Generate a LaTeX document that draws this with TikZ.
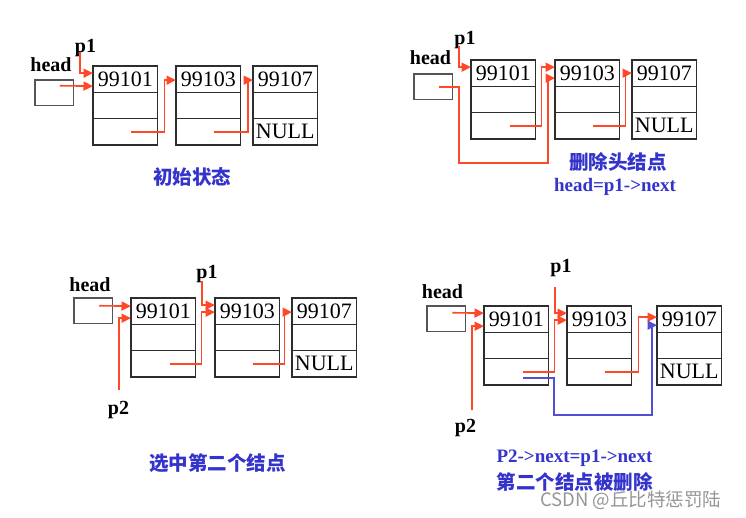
\documentclass[tikz,border=0pt]{standalone}
\usepackage{fontspec}
\setmainfont{Liberation Serif}
\newfontfamily\cjk{Noto Sans CJK SC}
\usetikzlibrary{arrows.meta,calc}
\definecolor{redc}{RGB}{255,72,40}
\definecolor{bluec}{RGB}{52,52,204}
\definecolor{bluel}{RGB}{80,80,215}
\definecolor{boxc}{RGB}{45,45,45}
\definecolor{hboxc}{RGB}{85,85,85}
\definecolor{wmc}{RGB}{150,150,150}
\tikzset{
  field/.style={draw=boxc, line width=1.2, minimum width=64.5, minimum height=26.3,
    inner sep=0, outer sep=0, font=\fontsize{22}{24}\selectfont},
  hbox/.style={draw=hboxc, line width=1.3, minimum width=38.5, minimum height=25.5, inner sep=0, outer sep=0, anchor=north west},
  lbl/.style={inner sep=0, font=\fontsize{20}{22}\selectfont\bfseries},
  ptr/.style={draw=redc, line width=1.6, -{Triangle[length=9.5pt,width=9pt]}},
  bptr/.style={draw=bluel, line width=1.6, -{Triangle[length=9.5pt,width=9pt]}},
  captxt/.style={inner sep=0, text=bluec, font=\fontsize{19.5}{22}\selectfont\cjk\bfseries},
  capltxt/.style={inner sep=0, text=bluec, font=\fontsize{19}{22}\selectfont\bfseries},
  wmtxt/.style={inner sep=0, text=wmc, font=\fontsize{18.5}{22}\selectfont\cjk, anchor=west}
}
\newcommand\listnode[5]{%
  \node[field,anchor=north west] (#1d) at (#2,#3) {#4};
  \node[field,anchor=north] (#1m) at (#1d.south) {};
  \node[field,anchor=north] (#1n) at (#1m.south) {#5};}
\begin{document}
\begin{tikzpicture}[x=1pt,y=-1pt]
\fill[white] (0,0) rectangle (746,517);
\useasboundingbox (0,0) rectangle (746,517);

% ---------- Panel 1 ----------
\node[hbox] (Ha) at (35,80) {};
\listnode{A1}{93}{66}{99101}{}
\listnode{A2}{176}{66}{99103}{}
\listnode{A3}{253}{66}{99107}{NULL}
\node[lbl] (Lha) at (51,64.5) {head};
\node[lbl] (Lpa) at (85.5,48.5) {p1};
\coordinate (Pa) at (80,52);
\draw[ptr] ($(Ha.center)+(5.5,-7)$) -- ($(A1d.west)+(0,7)$);
\draw[ptr] (Pa) |- ($(A1d.west)+(0,-6)$);
\draw[ptr] ($(A1n.center)+(6,0)$) -| ($(A1d.east)+(7,1)$) -- ($(A2d.west)+(0,1)$);
\draw[ptr] ($(A2n.center)+(6,0)$) -| ($(A2d.east)+(7.5,1)$) -- ($(A3d.west)+(0,1)$);
\node[captxt] (Ca) at (192,176.5) {初始状态};

% ---------- Panel 2 ----------
\node[hbox] (Hb) at (414,74) {};
\listnode{B1}{471}{60}{99101}{}
\listnode{B2}{555}{60}{99103}{}
\listnode{B3}{632}{60}{99107}{NULL}
\node[lbl] (Lhb) at (430.5,58) {head};
\node[lbl] (Lpb) at (465,40) {p1};
\coordinate (Pb) at (459,46);
\coordinate (Tb) at (459,163);
\draw[ptr] (Pb) |- ($(B1d.west)+(0,-6)$);
\draw[ptr] ($(Hb.center)+(6,0)$) -| (Tb) -| ($(B2d.west)+(-7,5)$) -- ($(B2d.west)+(0,5)$);
\draw[ptr] ($(B1n.center)+(6.5,0)$) -| ($(B1d.east)+(6,-6)$) -- ($(B2d.west)+(0,-6)$);
\draw[ptr] ($(B2n.center)+(6,0)$) -| ($(B2d.east)+(6,0)$) -- (B3d.west);
\node[captxt] (Cb1) at (618,162) {删除头结点};
\node[capltxt] (Cb2) at (615,187) {head=p1->next};

% ---------- Panel 3 ----------
\node[hbox] (Hc) at (74,298) {};
\listnode{C1}{131}{298}{99101}{}
\listnode{C2}{215}{298}{99103}{}
\listnode{C3}{292}{298}{99107}{NULL}
\node[lbl] (Lhc) at (90,284.5) {head};
\node[lbl] (Lpc) at (207,274.5) {p1};
\node[lbl] (Lqc) at (118.5,409.5) {p2};
\coordinate (Pc) at (202,281);
\coordinate (Qc) at (119,390);
\draw[ptr] ($(Hc.center)+(6,-5)$) -- ($(C1d.west)+(0,-5)$);
\draw[ptr] (Qc) |- ($(C1d.west)+(0,7)$);
\draw[ptr] (Pc) |- ($(C2d.west)+(0,-6)$);
\draw[ptr] ($(C1n.center)+(6.5,0)$) -| ($(C1d.east)+(6,1)$) -- ($(C2d.west)+(0,1)$);
\draw[ptr] ($(C2n.center)+(6,0)$) -| ($(C2d.east)+(5,1)$) -- ($(C3d.west)+(0,1)$);
\node[captxt] (Cc) at (217.5,463) {选中第二个结点};

% ---------- Panel 4 ----------
\node[hbox] (Hd) at (427,306) {};
\listnode{D1}{484}{306}{99101}{}
\listnode{D2}{567}{306}{99103}{}
\listnode{D3}{657}{306}{99107}{NULL}
\node[lbl] (Lhd) at (442.5,291.5) {head};
\node[lbl] (Lpd) at (561,268.5) {p1};
\node[lbl] (Lqd) at (465.5,427.5) {p2};
\coordinate (Pd) at (555,287);
\coordinate (Qd) at (472,410);
\coordinate (Td) at (554,415);
\draw[ptr] ($(Hd.center)+(6,-6)$) -- ($(D1d.west)+(0,-6)$);
\draw[ptr] (Qd) |- ($(D1d.west)+(0,7)$);
\draw[ptr] (Pd) |- ($(D2d.west)+(0,-6)$);
\draw[ptr] ($(D1n.center)+(6.5,0)$) -| ($(D1d.east)+(6,1)$) -- ($(D2d.west)+(0,1)$);
\draw[ptr] ($(D2n.center)+(6,0)$) -| ($(D2d.east)+(7,-2)$) -- ($(D3d.west)+(0,-2)$);
\draw[bptr] ($(D1n.center)+(6.5,6)$) -| (Td) -| ($(D3d.west)+(-5,6)$) -- ($(D3d.west)+(0,6)$);
\node[capltxt] (Cd1) at (574.5,458) {P2->next=p1->next};
\node[captxt] (Cd2) at (574.5,482) {第二个结点被删除};

\node[wmtxt] (W) at (540,500) {CSDN @丘比特惩罚陆};
\end{tikzpicture}
\end{document}
